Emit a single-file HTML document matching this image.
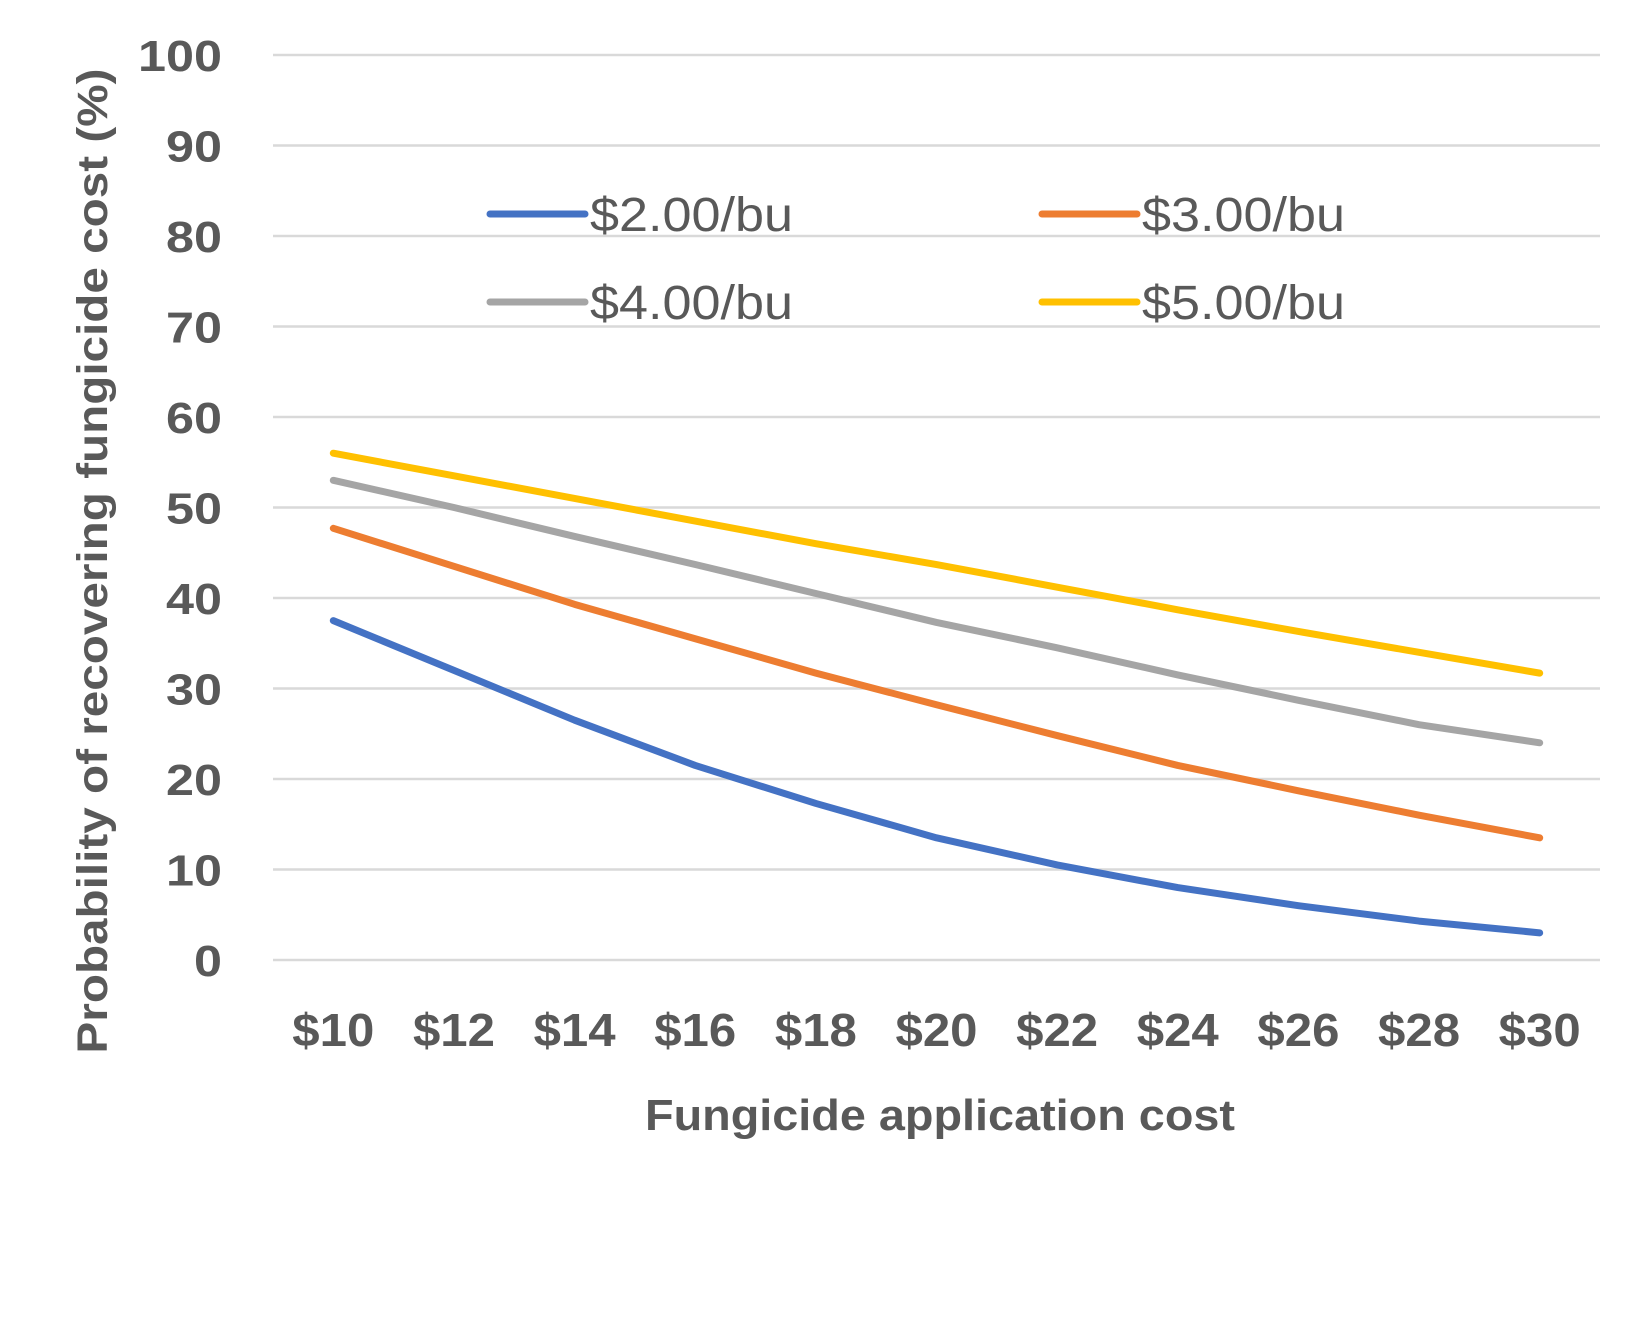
<!DOCTYPE html>
<html><head><meta charset="utf-8"><style>
html,body{margin:0;padding:0;background:#fff;}
svg{display:block;font-family:"Liberation Sans",sans-serif;}
</style></head><body>
<svg id="chart" width="1650" height="1320" viewBox="0 0 1650 1320">
<g id="grid"></g>
<g id="yticks"></g>
<g id="xticks"></g>
<g id="series"></g>
<text x="940" y="1130" text-anchor="middle" font-size="44" font-weight="bold" fill="#595959" textLength="590" lengthAdjust="spacingAndGlyphs">Fungicide application cost</text>
<text transform="translate(107,561) rotate(-90)" text-anchor="middle" font-size="43" font-weight="bold" fill="#595959" textLength="985" lengthAdjust="spacingAndGlyphs">Probability of recovering fungicide cost (%)</text>
<g id="legend"></g>
</svg>
<script>
const categories=["$10","$12","$14","$16","$18","$20","$22","$24","$26","$28","$30"];
const yTicks=[0,10,20,30,40,50,60,70,80,90,100];
const seriesNames=["$2.00/bu","$3.00/bu","$4.00/bu","$5.00/bu"];
const s2=[37.5,32,26.5,21.5,17.3,13.5,10.5,8,6,4.3,3];
const s3=[47.7,43.5,39.3,35.5,31.7,28.2,24.8,21.5,18.7,16,13.5];
const s4=[53,50,46.8,43.7,40.5,37.3,34.5,31.5,28.7,26,24];
const s5=[56,53.5,51,48.5,46,43.7,41.2,38.7,36.3,34,31.7];
const colors=["#4472C4","#ED7D31","#A5A5A5","#FFC000"];
const allSeries=[s2,s3,s4,s5];
const NS="http://www.w3.org/2000/svg";
const L=273,R=1600,T=55,B=960;
const band=(R-L)/categories.length;
const x=i=>L+band*(i+0.5);
const y=v=>B-(v/100)*(B-T);
function mk(tag,parent,attrs){const e=document.createElementNS(NS,tag);for(const k in attrs)e.setAttribute(k,attrs[k]);parent.appendChild(e);return e;}
const grid=document.getElementById('grid'),yt=document.getElementById('yticks'),xt=document.getElementById('xticks'),ser=document.getElementById('series'),leg=document.getElementById('legend');
yTicks.forEach(v=>{
  const g=mk('line',grid,{x1:L,x2:R,y1:y(v),y2:y(v),stroke:'#d9d9d9','stroke-width':2.5});
  
  
  const t=mk('text',yt,{x:222,y:y(v)+16,'text-anchor':'end','font-size':44,'font-weight':'bold',fill:'#595959',textLength:(String(v).length*28),lengthAdjust:'spacingAndGlyphs'});
  t.textContent=v;
  
  
});
categories.forEach((c,i)=>{
  const t=mk('text',xt,{x:x(i),y:1046,'text-anchor':'middle','font-size':46,'font-weight':'bold',fill:'#595959',textLength:82,lengthAdjust:'spacingAndGlyphs'});
  t.textContent=c;
  
  
});
allSeries.forEach((s,k)=>{
  const p=mk('polyline',ser,{points:s.map((v,i)=>x(i)+','+y(v)).join(' '),fill:'none',stroke:colors[k],'stroke-width':7,'stroke-linejoin':'round','stroke-linecap':'round'});
  
  
});
const legPos=[[490,214],[1042,214],[490,302],[1042,302]];
seriesNames.forEach((n,k)=>{
  const [lx,ly]=legPos[k];
  const l=mk('line',leg,{x1:lx,x2:lx+95,y1:ly,y2:ly,stroke:colors[k],'stroke-width':7,'stroke-linecap':'round'});
  
  
  const t=mk('text',leg,{x:lx+100,y:ly+17,'font-size':48,fill:'#595959',textLength:203,lengthAdjust:'spacingAndGlyphs'});
  t.textContent=n;
  
  
});
</script>
</body></html>
